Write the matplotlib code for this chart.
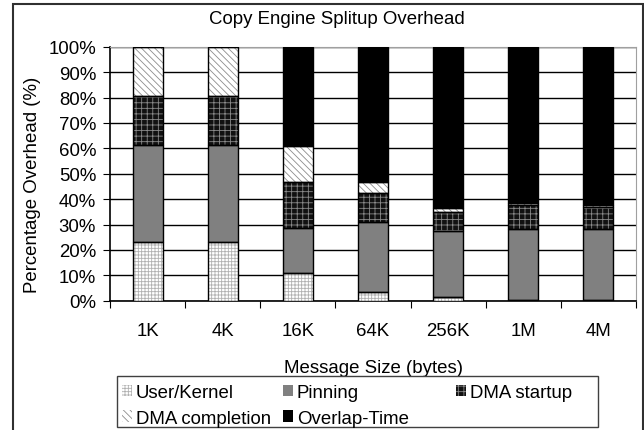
import matplotlib
matplotlib.use('Agg')
import matplotlib.pyplot as plt
from matplotlib.patches import Rectangle, Patch
import numpy as np

plt.rcParams['font.family'] = ['Liberation Sans', 'DejaVu Sans']
plt.rcParams['hatch.linewidth'] = 0.6
FS = 13.4

sizes = ['1K', '4K', '16K', '64K', '256K', '1M', '4M']
user_kernel = [23.3, 23.3, 10.9, 3.6, 1.3, 0.4, 0.3]
pinning = [38.0, 38.0, 17.7, 27.5, 26.0, 27.7, 28.1]
dma_startup = [19.2, 19.2, 18.2, 11.3, 7.7, 9.7, 8.3]
dma_completion = [19.5, 19.5, 14.1, 4.5, 1.5, 0.7, 0.9]
overlap_time = [0.0, 0.0, 39.1, 53.1, 63.5, 61.5, 62.4]

# name, values, face colour, hatch, hatch colour
series = [
    ('User/Kernel', user_kernel, 'white', '+++++', '#b0b0b0'),
    ('Pinning', pinning, '#808080', None, '#808080'),
    ('DMA startup', dma_startup, '#111111', '+++', '#8a8a8a'),
    ('DMA completion', dma_completion, 'white', '\\\\\\\\\\', '#8c8c8c'),
    ('Overlap-Time', overlap_time, 'black', None, 'black'),
]

fig = plt.figure(figsize=(6.44, 4.31), dpi=100)
ax = fig.add_axes([110 / 644, 1 - 301.7 / 431, 526 / 644, 254 / 431])

x = np.arange(len(sizes))
width = 0.4
bottom = np.zeros(len(sizes))
handles = {}
for name, vals, face, hatch, hcol in series:
    vals = np.array(vals)
    # hatched fill first, then a plain black outline on top
    ax.bar(x, vals, width, bottom=bottom, color=face, hatch=hatch,
           edgecolor=hcol, linewidth=0, zorder=3)
    ax.bar(x, vals, width, bottom=bottom, facecolor='none',
           edgecolor='black', linewidth=1.0, zorder=4)
    handles[name] = Patch(facecolor=face, hatch=hatch, edgecolor=hcol,
                          linewidth=0)
    bottom += vals

ax.set_ylim(0, 100)
ax.set_xlim(-0.5, len(sizes) - 0.5)
ax.set_yticks(np.arange(0, 101, 10))
ax.set_yticklabels([f'{v}%' for v in range(0, 101, 10)], fontsize=FS)
ax.yaxis.grid(True, color='black', linewidth=1.0, zorder=0)
ax.set_axisbelow(True)

ax.set_xticks(np.arange(-0.5, len(sizes)), labels=[''] * (len(sizes) + 1))
ax.set_xticks(x, labels=sizes, minor=True, fontsize=FS)
ax.tick_params(axis='x', which='minor', length=0, pad=15.3)
ax.tick_params(axis='x', which='major', length=5, direction='out')
ax.tick_params(axis='y', length=5, direction='out', pad=5)

for side in ('top', 'right'):
    ax.spines[side].set_color('#a0a0a0')
for side in ('left', 'bottom'):
    ax.spines[side].set_linewidth(1.2)

ax.set_ylabel('Percentage Overhead (%)', fontsize=FS)
ax.yaxis.set_label_coords(-0.131, 0.46)
ax.set_xlabel('Message Size (bytes)', fontsize=FS, labelpad=14.5)
fig.text(337 / 644, 1 - 20 / 431, 'Copy Engine Splitup Overhead',
         fontsize=FS, ha='center', va='center')

# legend laid out as three columns inside one frame
columns = [(122, ['User/Kernel', 'DMA completion']),
           (283, ['Pinning', 'Overlap-Time']),
           (456, ['DMA startup'])]
for xpix, names in columns:
    fig.legend([handles[n] for n in names], names, fontsize=FS,
               loc='upper left', bbox_to_anchor=(xpix / 644, 1 - 385 / 431),
               frameon=False, handlelength=0.55, handleheight=0.55,
               handletextpad=0.2, labelspacing=0.46, borderpad=0,
               borderaxespad=0)
fig.patches.append(Rectangle((117 / 644, 1 - 428 / 431), 481 / 644, 51 / 431,
                             transform=fig.transFigure, fill=False,
                             edgecolor='#404040', linewidth=1.0))

# border round the whole figure
fig.patches.append(Rectangle((13 / 644, -0.05), 630 / 644, 1.05 - 5 / 431,
                             transform=fig.transFigure, fill=False,
                             edgecolor='#303030', linewidth=1.5))

fig.savefig('out.png', dpi=100)
plt.close(fig)
